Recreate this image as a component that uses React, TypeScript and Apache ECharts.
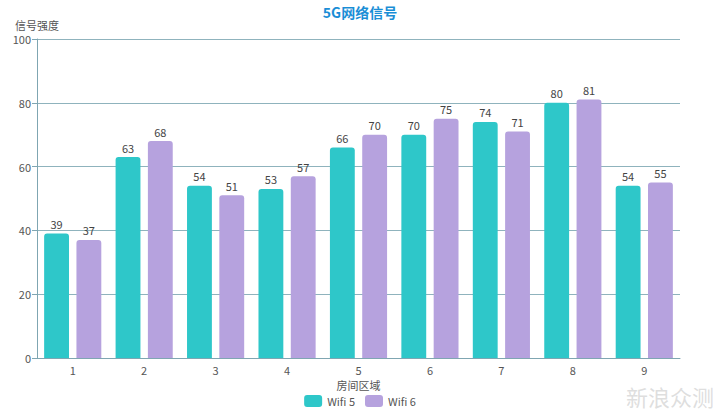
import React, { useEffect, useRef } from "react";
import * as echarts from "echarts";

const categories = ["1", "2", "3", "4", "5", "6", "7", "8", "9"];
const wifi5 = [39, 63, 54, 53, 66, 70, 74, 80, 54];
const wifi6 = [37, 68, 51, 57, 70, 75, 71, 81, 55];

export default function App() {
  const ref = useRef<HTMLDivElement>(null);
  useEffect(() => {
    if (!ref.current) return;
    const chart = echarts.init(ref.current, null, { renderer: "svg" });
    const font = "'Noto Sans CJK SC', 'Noto Sans', sans-serif";
    const axisColor = "#7fa6b2";
    chart.setOption({
      animation: false,
      textStyle: { fontFamily: font },
      title: {
        text: "5G网络信号",
        left: "center",
        top: 0,
        textStyle: { color: "#1a8ed6", fontSize: 14, fontWeight: "bold", fontFamily: font },
      },
      legend: {
        bottom: -1,
        left: "center",
        itemWidth: 18,
        itemHeight: 12,
        itemGap: 10,
        textStyle: { color: "#555", fontSize: 11, fontFamily: font },
        data: ["Wifi 5", "Wifi 6"],
      },
      grid: { left: 37, right: 40, top: 39, bottom: 53 },
      xAxis: {
        type: "category",
        data: categories,
        name: "房间区域",
        nameLocation: "middle",
        nameGap: 15,
        nameTextStyle: { color: "#555", fontSize: 11, verticalAlign: "top" },
        axisLine: { lineStyle: { color: axisColor } },
        axisTick: { lineStyle: { color: axisColor } },
        axisLabel: { color: "#555", fontSize: 11, margin: 6 },
      },
      yAxis: {
        type: "value",
        min: 0,
        max: 100,
        interval: 20,
        name: "信号强度",
        nameGap: 9,
        nameTextStyle: { color: "#555", fontSize: 11, align: "center" },
        axisLine: { show: true, lineStyle: { color: axisColor } },
        axisTick: { show: true, lineStyle: { color: axisColor } },
        axisLabel: { color: "#555", fontSize: 11, margin: 6 },
        splitLine: { lineStyle: { color: "#8fb3bd" } },
      },
      series: [
        {
          name: "Wifi 5",
          type: "bar",
          data: wifi5,
          barGap: "30%",
          barCategoryGap: "20%",
          itemStyle: { color: "#2ec7c9", borderRadius: [3, 3, 0, 0] },
          label: { show: true, position: "top", color: "#444", fontSize: 11, distance: 4 },
        },
        {
          name: "Wifi 6",
          type: "bar",
          data: wifi6,
          itemStyle: { color: "#b6a2de", borderRadius: [3, 3, 0, 0] },
          label: { show: true, position: "top", color: "#444", fontSize: 11, distance: 4 },
        },
      ],
      graphic: [
        {
          type: "text",
          right: 6,
          bottom: 4,
          style: {
            text: "新浪众测",
            fontSize: 22,
            fontFamily: font,
            fill: "rgba(200,200,200,0.6)",
          },
        },
      ],
    });
    return () => chart.dispose();
  }, []);
  return <div ref={ref} style={{ width: 720, height: 411, position: "absolute", left: 0, top: 0 }} />;
}
